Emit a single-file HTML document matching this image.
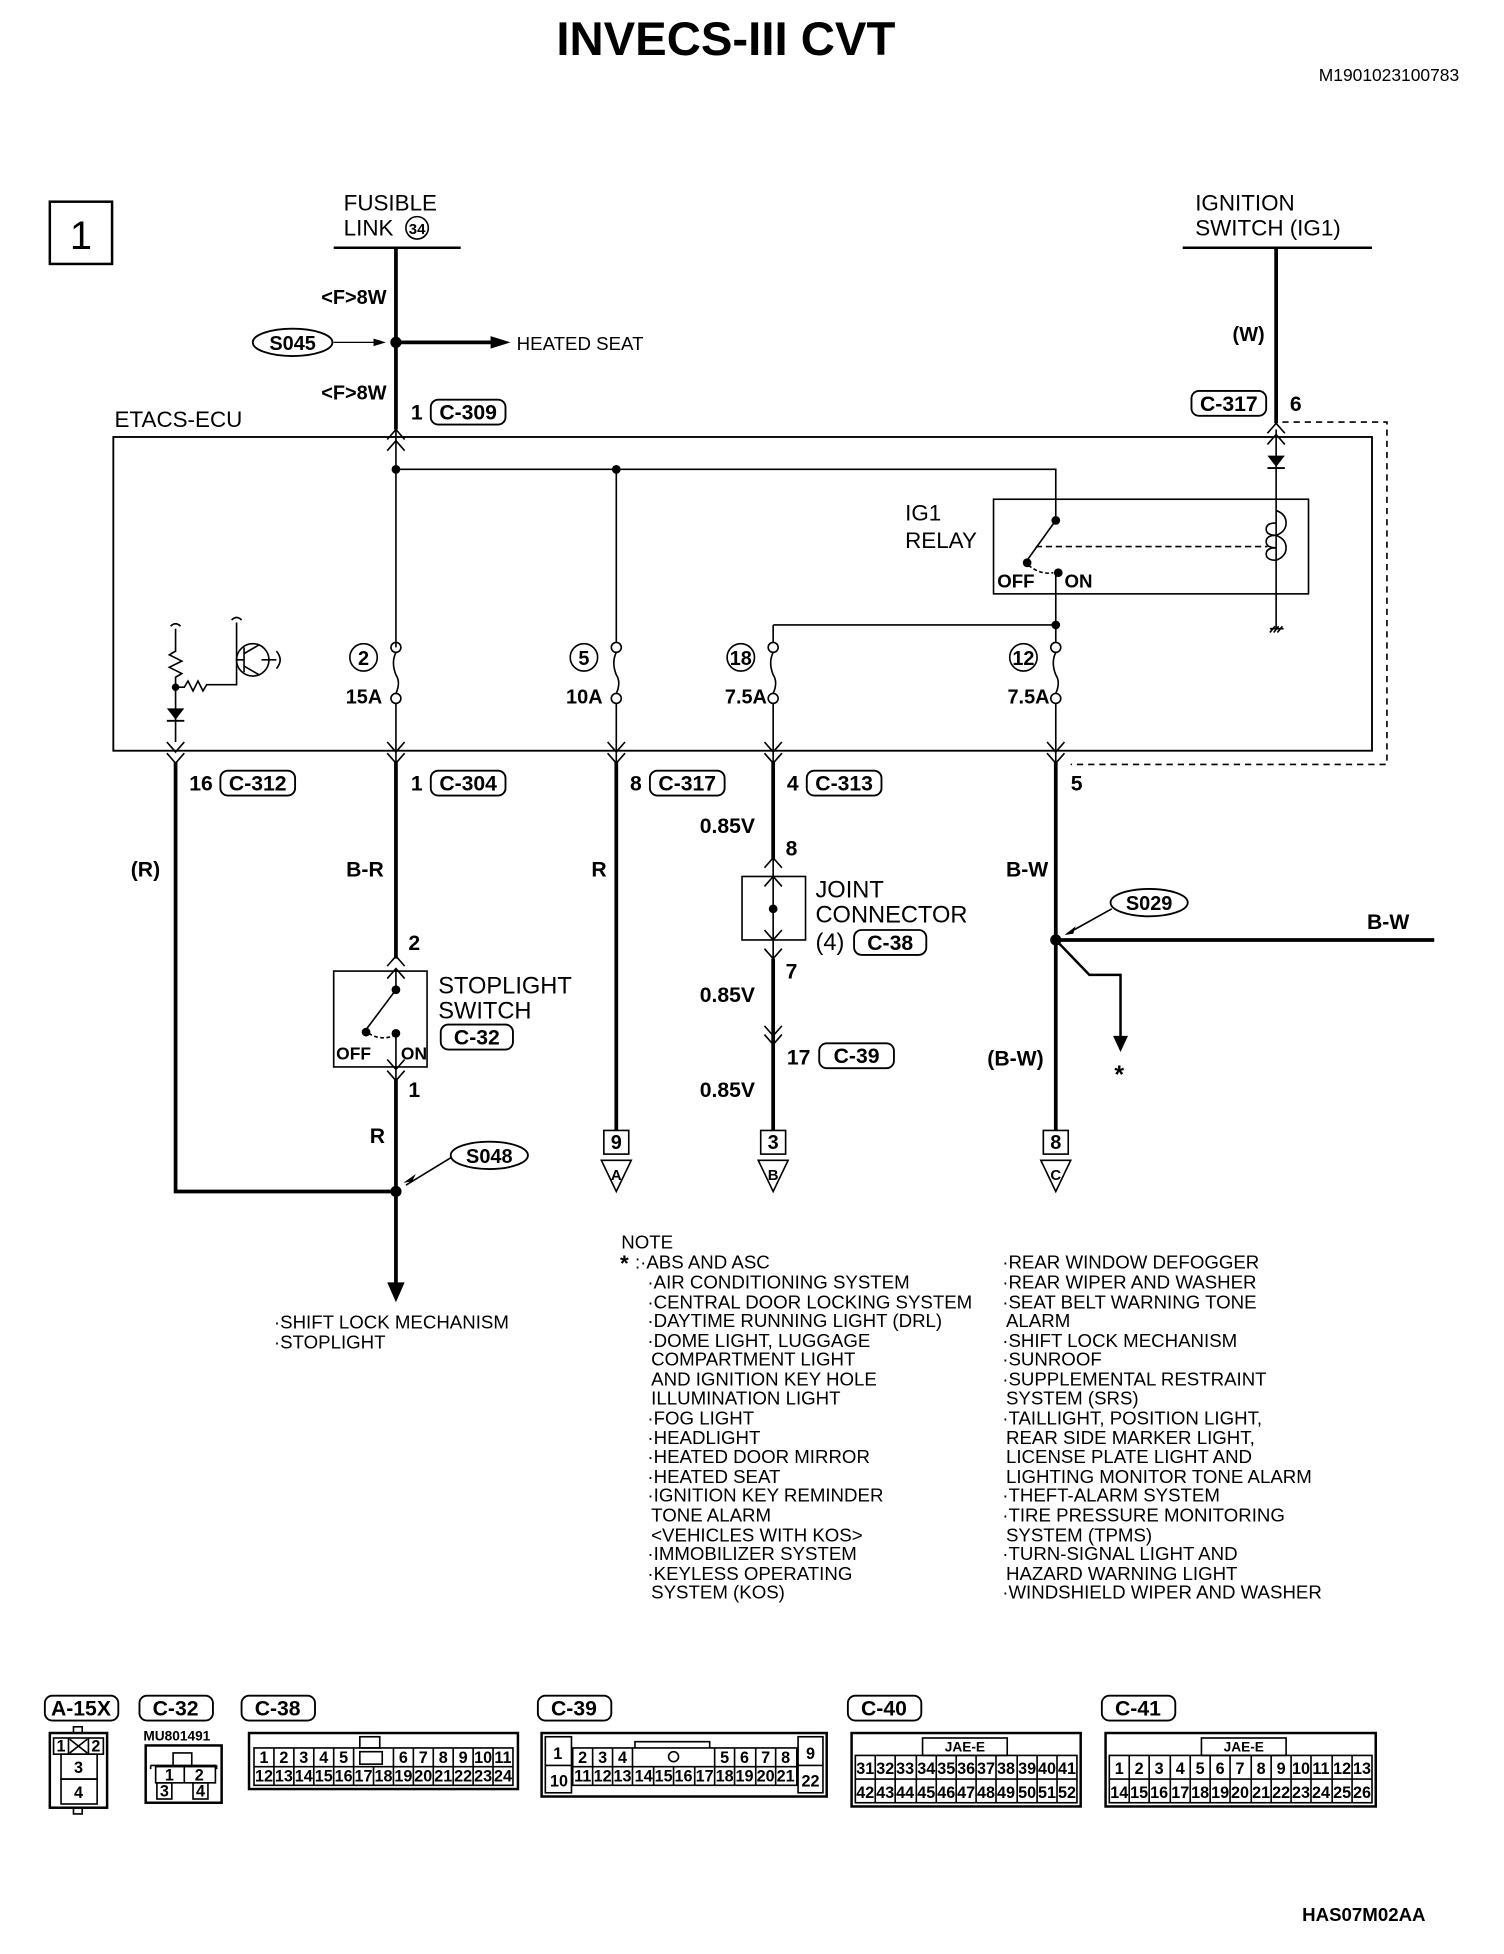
<!DOCTYPE html>
<html><head><meta charset="utf-8"><style>
html,body{margin:0;padding:0;background:#fff}
svg{display:block}
text{font-family:"Liberation Sans",sans-serif;fill:#000}
.b{font-weight:bold}
.n{font-family:"Liberation Sans Narrow","Liberation Sans",sans-serif;font-weight:bold}
</style></head><body>
<svg width="1504" height="1954" viewBox="0 0 1208 1569.5" xmlns="http://www.w3.org/2000/svg">
<text x="583" y="44" font-size="38" class="b" text-anchor="middle">INVECS-III CVT</text>
<text x="1172" y="65" font-size="14" text-anchor="end">M1901023100783</text>
<rect x="40" y="162" width="50" height="50" fill="none" stroke="#000" stroke-width="2"/>
<text x="65" y="200" font-size="32" text-anchor="middle">1</text>

<text x="276" y="169" font-size="18">FUSIBLE</text>
<text x="276" y="189" font-size="18">LINK</text>
<circle cx="335" cy="183" r="9" fill="none" stroke="#000" stroke-width="1.3"/>
<text x="335" y="188" font-size="12" text-anchor="middle" class="b">34</text>
<line x1="268" y1="199" x2="370" y2="199" stroke="#000" stroke-width="2"/>
<line x1="318" y1="199" x2="318" y2="345" stroke="#000" stroke-width="3"/>
<text x="258" y="244" font-size="16" class="n">&lt;F&gt;8W</text>
<text x="258" y="321" font-size="16" class="n">&lt;F&gt;8W</text>
<ellipse cx="235" cy="275" rx="32" ry="11" fill="none" stroke="#000" stroke-width="1.5"/>
<text x="235" y="281" font-size="16" class="n" text-anchor="middle">S045</text>
<line x1="268" y1="275" x2="306" y2="275" stroke="#000" stroke-width="1"/>
<path d="M300 272 L310 275 L300 278Z" fill="#000"/>
<circle cx="318" cy="275" r="4.5" fill="#000"/>
<line x1="318" y1="275" x2="396" y2="275" stroke="#000" stroke-width="3"/>
<path d="M394 270 L410 275 L394 280Z" fill="#000"/>
<text x="415" y="281" font-size="15">HEATED SEAT</text>
<text x="330" y="337" font-size="17" class="n">1</text>
<rect x="346" y="321" width="60" height="20" rx="6" fill="none" stroke="#000" stroke-width="1.5"/>
<text x="376" y="337" font-size="17" class="n" text-anchor="middle">C-309</text>

<text x="960" y="169" font-size="18">IGNITION</text>
<text x="960" y="189" font-size="18">SWITCH (IG1)</text>
<line x1="950" y1="199" x2="1102" y2="199" stroke="#000" stroke-width="2"/>
<line x1="1025" y1="199" x2="1025" y2="340" stroke="#000" stroke-width="3"/>
<text x="990" y="274" font-size="16" class="n">(W)</text>
<rect x="957" y="314" width="60" height="20" rx="6" fill="none" stroke="#000" stroke-width="1.5"/>
<text x="987" y="330" font-size="17" class="n" text-anchor="middle">C-317</text>
<text x="1036" y="330" font-size="17" class="n">6</text>

<text x="92" y="343" font-size="18">ETACS-ECU</text>
<rect x="91" y="351" width="1011" height="252" fill="none" stroke="#000" stroke-width="1.5"/>
<path d="M1030 339 H1114 V614 H860" fill="none" stroke="#000" stroke-width="1.3" stroke-dasharray="5,4"/>

<g fill="none" stroke="#000" stroke-width="1.3">
<path d="M311 353 L318 345 L325 353 M311 362 L318 354 L325 362"/>
<path d="M1018 348 L1025 340 L1032 348 M1018 357 L1025 349 L1032 357"/>
<path d="M318 345 V520 M318 377 H848 V418 M495 377 V516 M1025 345 V505"/>
<path d="M318 565 V612 M495 565 V612 M621 565 V612 M848 565 V612"/>
<path d="M848 460 V516 M621 502 H848 M621 502 V516"/>
<circle cx="318" cy="520" r="4"/><circle cx="318" cy="561" r="4"/><path d="M318 524 q-4 8 0 18 q4 6 0 15"/>
<circle cx="495" cy="520" r="4"/><circle cx="495" cy="561" r="4"/><path d="M495 524 q-4 8 0 18 q4 6 0 15"/>
<circle cx="621" cy="520" r="4"/><circle cx="621" cy="561" r="4"/><path d="M621 524 q-4 8 0 18 q4 6 0 15"/>
<circle cx="848" cy="520" r="4"/><circle cx="848" cy="561" r="4"/><path d="M848 524 q-4 8 0 18 q4 6 0 15"/>
<path d="M134 596 L141 604 L148 596 M134 605 L141 613 L148 605"/>
<path d="M311 596 L318 604 L325 596 M311 605 L318 613 L325 605"/>
<path d="M488 596 L495 604 L502 596 M488 605 L495 613 L502 605"/>
<path d="M614 596 L621 604 L628 596 M614 605 L621 613 L628 605"/>
<path d="M841 596 L848 604 L855 596 M841 605 L848 613 L855 605"/>
<rect x="798" y="401" width="253" height="76"/>
<path d="M848 418 L825 450"/>
<path d="M832 439 L1018 439" stroke-dasharray="5,3"/>
<path d="M826 454 q10 8 20 6" stroke-dasharray="3,2"/>
<path d="M1025 410 q8 3 8 10 q0 7 -8 10 q8 3 8 10 q0 7 -8 10 M1025 420 q-8 0 -8 5 q0 5 8 5 M1025 430 q-8 0 -8 5 q0 5 8 5 M1025 440 q-8 0 -8 5 q0 5 8 5"/>
<path d="M1020 505 L1031 505 M1020 508 L1024 503 M1023 508 L1027 503 M1026 508 L1030 503"/>
<path d="M141 505 V523 l-5 3 l10 5 l-10 5 l10 5 l-5 3 V596"/>
<path d="M137 503 q4 -4 8 0"/>
<path d="M141 552 H148 l3 -5 l4 8 l4 -8 l4 8 l3 -5 H190 V500 M186 498 q4 -4 8 0"/>
<circle cx="203" cy="530" r="13"/>
<path d="M190 530 H196 M196 520 V540 M196 525 L208 518 M196 535 L208 542 M210 530 H222 M222 523 q6 7 0 14"/>
</g>
<circle cx="318" cy="377" r="3.5"/><circle cx="495" cy="377" r="3.5"/>
<circle cx="848" cy="502" r="3.5"/><circle cx="848" cy="418" r="3.5"/><circle cx="850" cy="460" r="3.5"/><circle cx="825" cy="452" r="3.5"/>
<circle cx="141" cy="552" r="3"/>
<path d="M134 569 H148 L141 578Z" fill="#000"/><line x1="134" y1="579" x2="148" y2="579" stroke="#000" stroke-width="1.5"/>
<path d="M1018 366 H1032 L1025 375Z" fill="#000"/><line x1="1018" y1="376" x2="1032" y2="376" stroke="#000" stroke-width="1.5"/>
<text x="727" y="418" font-size="18">IG1</text>
<text x="727" y="440" font-size="18">RELAY</text>
<text x="801" y="472" font-size="15" class="n">OFF</text>
<text x="855" y="472" font-size="15" class="n">ON</text>

<g font-size="16">
<circle cx="292" cy="528" r="11" fill="none" stroke="#000" stroke-width="1.3"/><text x="292" y="534" class="n" text-anchor="middle">2</text>
<circle cx="469" cy="528" r="11" fill="none" stroke="#000" stroke-width="1.3"/><text x="469" y="534" class="n" text-anchor="middle">5</text>
<circle cx="595" cy="528" r="11" fill="none" stroke="#000" stroke-width="1.3"/><text x="595" y="534" class="n" text-anchor="middle">18</text>
<circle cx="822" cy="528" r="11" fill="none" stroke="#000" stroke-width="1.3"/><text x="822" y="534" class="n" text-anchor="middle">12</text>
<text x="307" y="565" class="n" text-anchor="end">15A</text>
<text x="484" y="565" class="n" text-anchor="end">10A</text>
<text x="616" y="565" class="n" text-anchor="end">7.5A</text>
<text x="843" y="565" class="n" text-anchor="end">7.5A</text>
</g>

<g font-size="17" class="n">
<text x="152" y="635" class="n">16</text><rect x="177" y="619" width="60" height="20" rx="6" fill="none" stroke="#000" stroke-width="1.5"/><text x="207" y="635" class="n" text-anchor="middle">C-312</text>
<text x="330" y="635" class="n">1</text><rect x="346" y="619" width="60" height="20" rx="6" fill="none" stroke="#000" stroke-width="1.5"/><text x="376" y="635" class="n" text-anchor="middle">C-304</text>
<text x="506" y="635" class="n">8</text><rect x="522" y="619" width="60" height="20" rx="6" fill="none" stroke="#000" stroke-width="1.5"/><text x="552" y="635" class="n" text-anchor="middle">C-317</text>
<text x="632" y="635" class="n">4</text><rect x="648" y="619" width="60" height="20" rx="6" fill="none" stroke="#000" stroke-width="1.5"/><text x="678" y="635" class="n" text-anchor="middle">C-313</text>
<text x="860" y="635" class="n">5</text>
</g>

<g stroke="#000" stroke-width="3" fill="none">
<path d="M141 612 V957 H318"/>
<path d="M318 612 V770"/>
<path d="M318 866 V1032"/>
<path d="M495 612 V908"/>
<path d="M621 612 V690 M621 770 V908"/>
<path d="M848 612 V908 M848 755 H1152"/>
</g>
<path d="M311 1030 H325 L318 1046Z" fill="#000"/>
<circle cx="318" cy="957" r="4.5" fill="#000"/>
<circle cx="848" cy="755" r="4.5" fill="#000"/>
<path d="M848 755 L875 783 H900 V835" fill="none" stroke="#000" stroke-width="2"/>
<path d="M894 832 H906 L900 845Z" fill="#000"/>
<text x="899" y="870" font-size="20" text-anchor="middle" class="b">*</text>

<g fill="none" stroke="#000" stroke-width="1.3">
<rect x="268" y="780" width="75" height="77"/>
<path d="M311 776 L318 768 L325 776 M311 786 L318 778 L325 786 M318 778 V795 M318 795 L294 827"/>
<path d="M296 830 q10 6 20 2" stroke-dasharray="3,2"/>
<path d="M318 830 V866 M311 851 L318 859 L325 851 M311 860 L318 868 L325 860"/>
<rect x="596" y="704" width="51" height="51"/>
<path d="M621 690 V770 M614 697 L621 689 L628 697 M614 712 L621 704 L628 712 M614 747 L621 755 L628 747 M614 762 L621 770 L628 762"/>
<path d="M614 824 L621 832 L628 824 M614 831 L621 839 L628 831"/>
<rect x="485" y="908" width="20" height="19"/><path d="M483 932 H507 L495 957Z"/>
<rect x="611" y="908" width="20" height="19"/><path d="M609 932 H633 L621 957Z"/>
<rect x="838" y="908" width="20" height="19"/><path d="M836 932 H860 L848 957Z"/>
<ellipse cx="393" cy="928" rx="31" ry="11" stroke-width="1.5"/>
<path d="M362 930 L326 952"/>
<ellipse cx="923" cy="725" rx="31" ry="11" stroke-width="1.5"/>
<path d="M893 730 L857 750"/>
</g>
<path d="M324 950 L334 943 L331 949Z" fill="#000"/>
<path d="M855 751 L864 744 L862 750Z" fill="#000"/>
<circle cx="318" cy="795" r="3.5"/><circle cx="294" cy="829" r="3.5"/><circle cx="318" cy="830" r="3.5"/>
<circle cx="621" cy="730" r="3.5"/>
<g font-size="16" class="n">
<text x="393" y="934" class="n" text-anchor="middle">S048</text>
<text x="923" y="731" class="n" text-anchor="middle">S029</text>
<text x="495" y="923" class="n" text-anchor="middle">9</text>
<text x="621" y="923" class="n" text-anchor="middle">3</text>
<text x="848" y="923" class="n" text-anchor="middle">8</text>
<text x="495" y="948" font-size="12" class="n" text-anchor="middle">A</text>
<text x="621" y="948" font-size="12" class="n" text-anchor="middle">B</text>
<text x="848" y="948" font-size="12" class="n" text-anchor="middle">C</text>
</g>
<g font-size="17">
<text x="105" y="704" class="n">(R)</text>
<text x="278" y="704" class="n">B-R</text>
<text x="475" y="704" class="n">R</text>
<text x="808" y="704" class="n">B-W</text>
<text x="1098" y="746" class="n">B-W</text>
<text x="793" y="856" class="n">(B-W)</text>
<text x="297" y="918" class="n">R</text>
<text x="562" y="669" class="n">0.85V</text>
<text x="562" y="805" class="n">0.85V</text>
<text x="562" y="881" class="n">0.85V</text>
<text x="631" y="687" class="n">8</text>
<text x="631" y="786" class="n">7</text>
<text x="632" y="855" class="n">17</text>
<rect x="658" y="838" width="60" height="20" rx="6" fill="none" stroke="#000" stroke-width="1.5"/><text x="688" y="854" class="n" text-anchor="middle">C-39</text>
<text x="328" y="763" class="n">2</text>
<text x="328" y="881" class="n">1</text>
<text x="352" y="798" font-size="19" style="font-weight:normal;font-family:'Liberation Sans',sans-serif">STOPLIGHT</text>
<text x="352" y="818" font-size="19" style="font-weight:normal;font-family:'Liberation Sans',sans-serif">SWITCH</text>
<rect x="354" y="823" width="58" height="20" rx="6" fill="none" stroke="#000" stroke-width="1.5"/><text x="383" y="839" class="n" text-anchor="middle">C-32</text>
<text x="270" y="851" font-size="14" class="n">OFF</text>
<text x="322" y="851" font-size="14" class="n">ON</text>
<text x="655" y="721" font-size="19" style="font-weight:normal;font-family:'Liberation Sans',sans-serif">JOINT</text>
<text x="655" y="741" font-size="19" style="font-weight:normal;font-family:'Liberation Sans',sans-serif">CONNECTOR</text>
<text x="655" y="763" font-size="19" style="font-weight:normal;font-family:'Liberation Sans',sans-serif">(4)</text>
<rect x="686" y="747" width="58" height="20" rx="6" fill="none" stroke="#000" stroke-width="1.5"/><text x="715" y="763" class="n" text-anchor="middle">C-38</text>
</g>
<text x="220" y="1067" font-size="15">·SHIFT LOCK MECHANISM</text>
<text x="220" y="1083" font-size="15">·STOPLIGHT</text>

<g font-size="15">
<text x="499" y="1003">NOTE</text>
<text x="498" y="1021" class="b" font-size="18">*</text>
<text x="510" y="1019">:·ABS AND ASC</text>
<text x="520" y="1035">·AIR CONDITIONING SYSTEM</text>
<text x="520" y="1051">·CENTRAL DOOR LOCKING SYSTEM</text>
<text x="520" y="1066">·DAYTIME RUNNING LIGHT (DRL)</text>
<text x="520" y="1082">·DOME LIGHT, LUGGAGE</text>
<text x="523" y="1097">COMPARTMENT LIGHT</text>
<text x="523" y="1113">AND IGNITION KEY HOLE</text>
<text x="523" y="1128">ILLUMINATION LIGHT</text>
<text x="520" y="1144">·FOG LIGHT</text>
<text x="520" y="1160">·HEADLIGHT</text>
<text x="520" y="1175">·HEATED DOOR MIRROR</text>
<text x="520" y="1191">·HEATED SEAT</text>
<text x="520" y="1206">·IGNITION KEY REMINDER</text>
<text x="523" y="1222">TONE ALARM</text>
<text x="523" y="1238">&lt;VEHICLES WITH KOS&gt;</text>
<text x="520" y="1253">·IMMOBILIZER SYSTEM</text>
<text x="520" y="1269">·KEYLESS OPERATING</text>
<text x="523" y="1284">SYSTEM (KOS)</text>
<text x="805" y="1019">·REAR WINDOW DEFOGGER</text>
<text x="805" y="1035">·REAR WIPER AND WASHER</text>
<text x="805" y="1051">·SEAT BELT WARNING TONE</text>
<text x="808" y="1066">ALARM</text>
<text x="805" y="1082">·SHIFT LOCK MECHANISM</text>
<text x="805" y="1097">·SUNROOF</text>
<text x="805" y="1113">·SUPPLEMENTAL RESTRAINT</text>
<text x="808" y="1128">SYSTEM (SRS)</text>
<text x="805" y="1144">·TAILLIGHT, POSITION LIGHT,</text>
<text x="808" y="1160">REAR SIDE MARKER LIGHT,</text>
<text x="808" y="1175">LICENSE PLATE LIGHT AND</text>
<text x="808" y="1191">LIGHTING MONITOR TONE ALARM</text>
<text x="805" y="1206">·THEFT-ALARM SYSTEM</text>
<text x="805" y="1222">·TIRE PRESSURE MONITORING</text>
<text x="808" y="1238">SYSTEM (TPMS)</text>
<text x="805" y="1253">·TURN-SIGNAL LIGHT AND</text>
<text x="808" y="1269">HAZARD WARNING LIGHT</text>
<text x="805" y="1284">·WINDSHIELD WIPER AND WASHER</text>
</g>

<g fill="none" stroke="#000" stroke-width="1.5">
<rect x="36" y="1362" width="59" height="20" rx="6"/>
<rect x="112" y="1362" width="59" height="20" rx="6"/>
<rect x="194" y="1362" width="59" height="20" rx="6"/>
<rect x="432" y="1362" width="59" height="20" rx="6"/>
<rect x="681" y="1362" width="59" height="20" rx="6"/>
<rect x="885" y="1362" width="59" height="20" rx="6"/>
</g>
<g font-size="17" class="n" text-anchor="middle">
<text x="65" y="1378" class="n">A-15X</text>
<text x="141" y="1378" class="n">C-32</text>
<text x="223" y="1378" class="n">C-38</text>
<text x="461" y="1378" class="n">C-39</text>
<text x="710" y="1378" class="n">C-40</text>
<text x="914" y="1378" class="n">C-41</text>
</g>
<g fill="none" stroke="#000" stroke-width="1.3">
<rect x="40" y="1392" width="46" height="60" stroke-width="2"/>
<rect x="59" y="1387" width="7" height="5"/><rect x="59" y="1452" width="7" height="5"/>
<rect x="43" y="1396" width="40" height="13"/><path d="M55 1396 V1409 M71 1396 V1409 M56 1397 L70 1408 M70 1397 L56 1408"/>
<rect x="49" y="1409" width="29" height="20"/><rect x="49" y="1429" width="29" height="20"/>
<rect x="117" y="1402" width="61" height="46" stroke-width="2"/>
<path d="M121 1418 H174 M121 1418 V1421 M174 1418 V1421 M139 1418 V1408 H154 V1418"/>
<rect x="125" y="1419" width="48" height="13"/><path d="M148 1419 V1432"/>
<rect x="126" y="1432" width="12" height="13"/><rect x="155" y="1432" width="12" height="13"/>
<rect x="200" y="1392" width="216" height="45" stroke-width="2"/>
<rect x="289" y="1395" width="16" height="9"/>
<rect x="204" y="1404" width="208" height="30"/>
<path d="M204 1419 H412 M220 1404 V1434 M236 1404 V1434 M252 1404 V1434 M268 1404 V1434 M284 1404 V1434 M300 1419 V1434 M316 1404 V1434 M332 1404 V1434 M348 1404 V1434 M364 1404 V1434 M380 1404 V1434 M396 1404 V1434"/>
<rect x="289" y="1407" width="18" height="10"/>
<rect x="435" y="1392" width="229" height="51" stroke-width="2"/>
<rect x="438" y="1395" width="21" height="45"/><path d="M438 1418 H459"/>
<rect x="460" y="1404" width="180" height="30"/>
<path d="M460 1419 H640 M476 1404 V1434 M492 1404 V1434 M508 1404 V1434 M525 1419 V1434 M541 1419 V1434 M558 1419 V1434 M574 1404 V1434 M590 1404 V1434 M607 1404 V1434 M623 1404 V1434"/>
<path d="M510 1404 V1399 H570 V1404"/>
<circle cx="541" cy="1411" r="4"/>
<rect x="641" y="1395" width="20" height="45"/><path d="M641 1418 H661"/>
<rect x="684" y="1392" width="184" height="59" stroke-width="2"/>
<rect x="741" y="1396" width="68" height="14"/>
<rect x="687" y="1410" width="178" height="38"/>
<path d="M687 1429 H865 M703 1410 V1448 M719 1410 V1448 M736 1410 V1448 M752 1410 V1448 M768 1410 V1448 M784 1410 V1448 M800 1410 V1448 M817 1410 V1448 M833 1410 V1448 M849 1410 V1448"/>
<rect x="888" y="1392" width="217" height="59" stroke-width="2"/>
<rect x="965" y="1396" width="68" height="14"/>
<rect x="891" y="1410" width="211" height="38"/>
<path d="M891 1429 H1102 M907 1410 V1448 M923 1410 V1448 M940 1410 V1448 M956 1410 V1448 M972 1410 V1448 M988 1410 V1448 M1005 1410 V1448 M1021 1410 V1448 M1037 1410 V1448 M1053 1410 V1448 M1070 1410 V1448 M1086 1410 V1448"/>
</g>
<g font-size="13" class="n" text-anchor="middle">
<text x="49" y="1407" class="n">1</text><text x="77" y="1407" class="n">2</text>
<text x="63" y="1424" class="n">3</text><text x="63" y="1444" class="n">4</text>
<text x="142" y="1398" font-size="11" class="n">MU801491</text>
<text x="136" y="1430" class="n">1</text><text x="160" y="1430" class="n">2</text>
<text x="132" y="1443" class="n">3</text><text x="161" y="1443" class="n">4</text>
<text x="212" y="1416" class="n">1</text><text x="228" y="1416" class="n">2</text><text x="244" y="1416" class="n">3</text><text x="260" y="1416" class="n">4</text><text x="276" y="1416" class="n">5</text>
<text x="324" y="1416" class="n">6</text><text x="340" y="1416" class="n">7</text><text x="356" y="1416" class="n">8</text><text x="372" y="1416" class="n">9</text><text x="388" y="1416" class="n">10</text><text x="404" y="1416" class="n">11</text>
<text x="212" y="1431" class="n">12</text><text x="228" y="1431" class="n">13</text><text x="244" y="1431" class="n">14</text><text x="260" y="1431" class="n">15</text><text x="276" y="1431" class="n">16</text><text x="292" y="1431" class="n">17</text><text x="308" y="1431" class="n">18</text><text x="324" y="1431" class="n">19</text><text x="340" y="1431" class="n">20</text><text x="356" y="1431" class="n">21</text><text x="372" y="1431" class="n">22</text><text x="388" y="1431" class="n">23</text><text x="404" y="1431" class="n">24</text>
<text x="448" y="1413" class="n">1</text><text x="449" y="1435" class="n">10</text>
<text x="468" y="1416" class="n">2</text><text x="484" y="1416" class="n">3</text><text x="500" y="1416" class="n">4</text>
<text x="582" y="1416" class="n">5</text><text x="598" y="1416" class="n">6</text><text x="615" y="1416" class="n">7</text><text x="631" y="1416" class="n">8</text>
<text x="651" y="1413" class="n">9</text><text x="651" y="1435" class="n">22</text>
<text x="468" y="1431" class="n">11</text><text x="484" y="1431" class="n">12</text><text x="500" y="1431" class="n">13</text><text x="517" y="1431" class="n">14</text><text x="533" y="1431" class="n">15</text><text x="549" y="1431" class="n">16</text><text x="566" y="1431" class="n">17</text><text x="582" y="1431" class="n">18</text><text x="598" y="1431" class="n">19</text><text x="615" y="1431" class="n">20</text><text x="631" y="1431" class="n">21</text>
<text x="775" y="1407" font-size="11" class="n">JAE-E</text>
<text x="695" y="1425" class="n">31</text><text x="711" y="1425" class="n">32</text><text x="727" y="1425" class="n">33</text><text x="744" y="1425" class="n">34</text><text x="760" y="1425" class="n">35</text><text x="776" y="1425" class="n">36</text><text x="792" y="1425" class="n">37</text><text x="808" y="1425" class="n">38</text><text x="825" y="1425" class="n">39</text><text x="841" y="1425" class="n">40</text><text x="857" y="1425" class="n">41</text>
<text x="695" y="1444" class="n">42</text><text x="711" y="1444" class="n">43</text><text x="727" y="1444" class="n">44</text><text x="744" y="1444" class="n">45</text><text x="760" y="1444" class="n">46</text><text x="776" y="1444" class="n">47</text><text x="792" y="1444" class="n">48</text><text x="808" y="1444" class="n">49</text><text x="825" y="1444" class="n">50</text><text x="841" y="1444" class="n">51</text><text x="857" y="1444" class="n">52</text>
<text x="999" y="1407" font-size="11" class="n">JAE-E</text>
<text x="899" y="1425" class="n">1</text><text x="915" y="1425" class="n">2</text><text x="931" y="1425" class="n">3</text><text x="948" y="1425" class="n">4</text><text x="964" y="1425" class="n">5</text><text x="980" y="1425" class="n">6</text><text x="996" y="1425" class="n">7</text><text x="1013" y="1425" class="n">8</text><text x="1029" y="1425" class="n">9</text><text x="1045" y="1425" class="n">10</text><text x="1061" y="1425" class="n">11</text><text x="1078" y="1425" class="n">12</text><text x="1094" y="1425" class="n">13</text>
<text x="899" y="1444" class="n">14</text><text x="915" y="1444" class="n">15</text><text x="931" y="1444" class="n">16</text><text x="948" y="1444" class="n">17</text><text x="964" y="1444" class="n">18</text><text x="980" y="1444" class="n">19</text><text x="996" y="1444" class="n">20</text><text x="1013" y="1444" class="n">21</text><text x="1029" y="1444" class="n">22</text><text x="1045" y="1444" class="n">23</text><text x="1061" y="1444" class="n">24</text><text x="1078" y="1444" class="n">25</text><text x="1094" y="1444" class="n">26</text>
</g>
<text x="1145" y="1543" font-size="15" class="n" text-anchor="end">HAS07M02AA</text>
</svg>
</body></html>
